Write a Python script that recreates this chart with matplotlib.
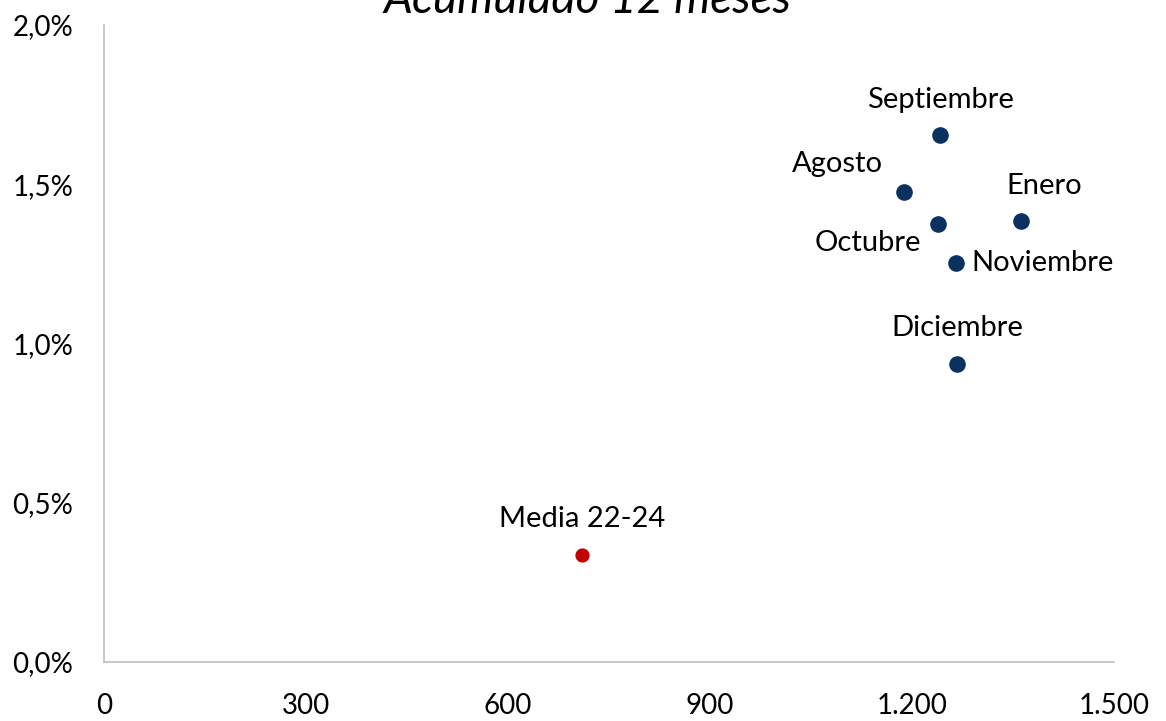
import matplotlib.pyplot as plt
from matplotlib.ticker import FuncFormatter

plt.rcParams["font.family"] = ["Lato", "DejaVu Sans"]

# monthly points (x: units, y: percent)
meses = ["Septiembre", "Agosto", "Enero", "Octubre", "Noviembre", "Diciembre"]
x_meses = [1242, 1188, 1362, 1238, 1265, 1267]
y_meses = [1.655, 1.477, 1.386, 1.375, 1.253, 0.936]

media_label = "Media 22-24"
x_media = [710]
y_media = [0.337]

# label offsets in pixels (dx, dy) and alignment
offsets = {
    "Septiembre": (0, 35, "center"),
    "Agosto": (-67, 28, "center"),
    "Enero": (23, 35, "center"),
    "Octubre": (-70, -19, "center"),
    "Noviembre": (16, 0, "left"),
    "Diciembre": (0, 36, "center"),
}

fig = plt.figure(figsize=(11.66, 7.21), dpi=100)
ax = fig.add_axes([104 / 1166, 59 / 721, 1010 / 1166, 637 / 721])

ax.scatter(x_meses, y_meses, s=120, color="#0B3160", zorder=3, clip_on=False)
ax.scatter(x_media, y_media, s=85, color="#C00000", zorder=3, clip_on=False)

for name, x, y in zip(meses, x_meses, y_meses):
    dx, dy, ha = offsets[name]
    ax.annotate(name, (x, y), xytext=(dx, dy), textcoords="offset pixels",
                ha=ha, va="center", fontsize=21, color="black")
ax.annotate(media_label, (x_media[0], y_media[0]), xytext=(0, 36),
            textcoords="offset pixels", ha="center", va="center",
            fontsize=21, color="black")

ax.set_xlim(0, 1500)
ax.set_ylim(0, 2.0)
ax.set_xticks([0, 300, 600, 900, 1200, 1500])
ax.set_yticks([0, 0.5, 1.0, 1.5, 2.0])
ax.xaxis.set_major_formatter(FuncFormatter(lambda v, p: f"{int(v):,}".replace(",", ".")))
ax.yaxis.set_major_formatter(FuncFormatter(lambda v, p: f"{v:.1f}%".replace(".", ",")))
ax.tick_params(length=0, labelsize=20)
ax.tick_params(axis="x", pad=22)
ax.tick_params(axis="y", pad=22)

for s in ["top", "right"]:
    ax.spines[s].set_visible(False)
for s in ["left", "bottom"]:
    ax.spines[s].set_color("#BFBFBF")
    ax.spines[s].set_linewidth(1.2)

fig.text(587 / 1166, 1 - 13 / 721, "Acumulado 12 meses", ha="center",
         va="baseline", fontsize=33, style="italic")

fig.savefig("out.png", dpi=100)
